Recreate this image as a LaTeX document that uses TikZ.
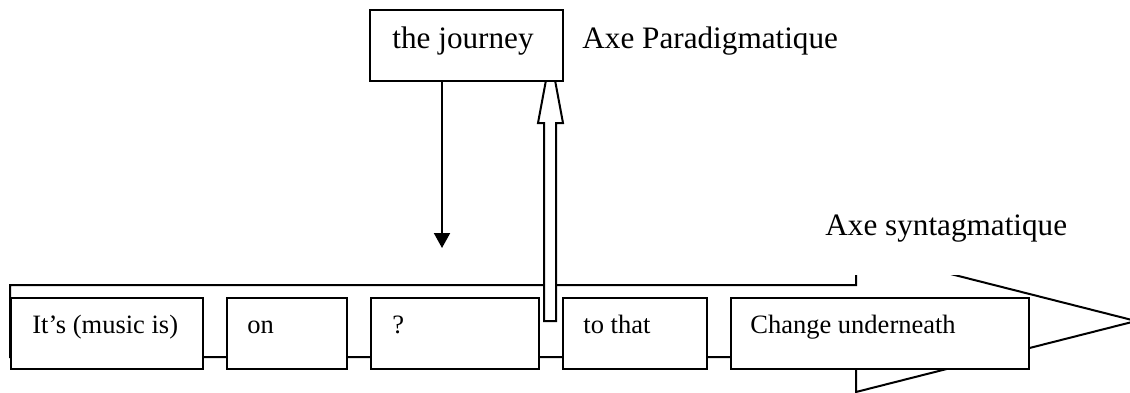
\documentclass[tikz,border=0pt]{standalone}
\usepackage{fontspec}
\setmainfont{Liberation Serif}
\usetikzlibrary{arrows.meta}
\tikzset{
  lw/.style={line width=1pt},
  boxshape/.style={draw, lw, fill=white, rectangle, inner sep=0pt, anchor=north west, minimum height=35.5pt},
  boxtext/.style={font=\fontsize{13.25pt}{15pt}\selectfont, inner sep=0pt, anchor=base west},
  labeltext/.style={font=\fontsize{15.6pt}{18pt}\selectfont, inner sep=0pt, anchor=base west},
  blockarrow/.style={draw, lw, fill=white, line join=miter},
}
\begin{document}
\begin{tikzpicture}[x=0.5pt, y=-0.5pt]
\useasboundingbox (0,0) rectangle (1130,392);
\clip (0,0) rectangle (1130,392);
% syntagmatic block arrow
\path[blockarrow] (10,285) -- (856,285) -- (856,250) -- (1136,321) -- (856,392) -- (856,357) -- (10,357) -- cycle;
% paradigmatic hollow arrow (up)
\path[blockarrow] (544,321) -- (544,123) -- (538,123) -- (550.5,56) -- (563,123) -- (556,123) -- (556,321) -- cycle;
% boxes
\node[boxshape, minimum width=96pt] (b1) at (10,297) {};
\node[boxshape, minimum width=60pt] (b2) at (226,297) {};
\node[boxshape, minimum width=84pt] (b3) at (370,297) {};
\node[boxshape, minimum width=72pt] (b4) at (562,297) {};
\node[boxshape, minimum width=149pt] (b5) at (730,297) {};
\node[boxshape, minimum width=96.5pt] (j) at (369,9) {};
% texts
\node[boxtext] (t1) at (32,333) {It’s (music is)};
\node[boxtext] (t2) at (247,333) {on};
\node[boxtext] (t3) at (392,333) {?};
\node[boxtext] (t4) at (583,333) {to that};
\node[boxtext] (t5) at (750,333) {Change underneath};
\node[labeltext] (tj) at (392,48) {the journey};
\node[labeltext] (tp) at (582,48) {Axe Paradigmatique};
% down arrow
\coordinate (dtip) at (442,248);
\draw[lw, -{Triangle[width=8pt,length=7.5pt]}] (j.south -| dtip) -- (dtip);
% syntagmatic label (white background hides the arrow head's corner)
\node[labeltext, fill=white, inner xsep=2pt, inner ysep=0pt, text depth=20pt] (ts) at (821,235) {Axe syntagmatique};
\end{tikzpicture}
\end{document}
